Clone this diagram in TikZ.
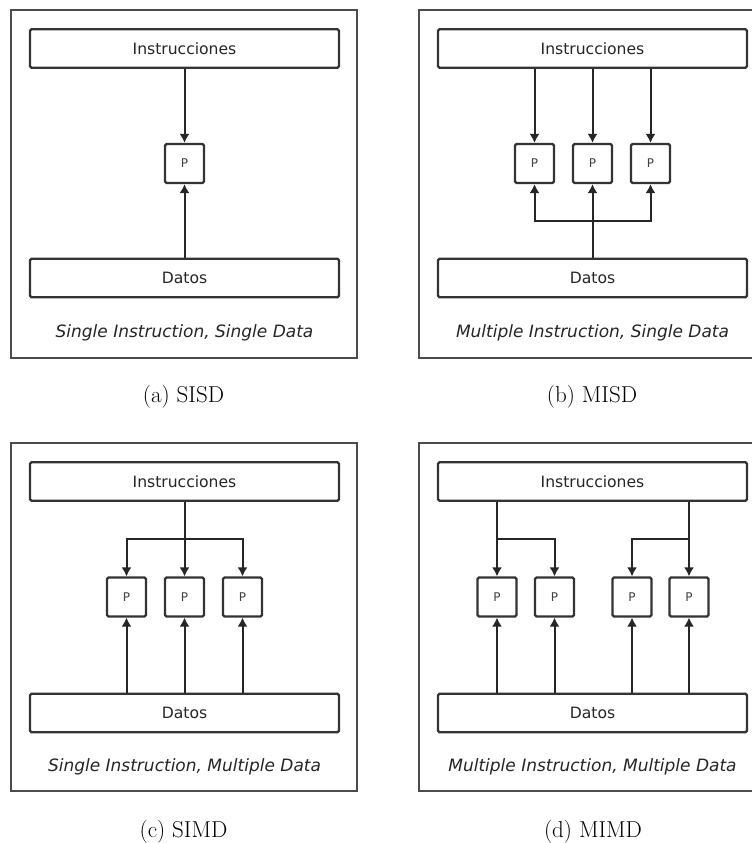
\documentclass[tikz,border=0pt]{standalone}
\usepackage{fontspec}
\newfontfamily\dvsans{DejaVu Sans}
\usetikzlibrary{arrows.meta}
\tikzset{
  frame/.style={draw=black!70, line width=1.8pt},
  bigbox/.style={draw=black!80, line width=2.2pt, rounded corners=1.5pt, fill=white,
    minimum width=309pt, minimum height=38.5pt, inner sep=0pt,
    font=\dvsans\fontsize{15.6}{18}\selectfont, text=black!85},
  pbox/.style={draw=black!80, line width=2.2pt, rounded corners=1.5pt, fill=white,
    minimum width=39pt, minimum height=39pt, inner sep=0pt,
    font=\dvsans\fontsize{12}{14}\selectfont, text=black!75},
  arr/.style={draw=black!85, line width=2pt, -{Latex[length=9pt,width=10pt]}},
  mode/.style={font=\dvsans\itshape\fontsize{17}{20}\selectfont, text=black!85},
  subcap/.style={font=\fontsize{23}{27}\selectfont}
}
\begin{document}
\begin{tikzpicture}[x=1pt,y=-1pt]
\useasboundingbox (0,0) rectangle (752,843);
\clip (0,0) rectangle (752,843);
\fill[white] (0,0) rectangle (752,843);

% ---------- (a) SISD ----------
\begin{scope}[shift={(0,0)}]
  \draw[frame] (11,10) rectangle (357,358);
  \node[bigbox] (a-ins) at (184.5,48.5) {Instrucciones};
  \node[pbox] (a-p) at (184.5,163.5) {P};
  \node[bigbox] (a-dat) at (184.5,278) {Datos};
  \draw[arr] (a-ins.south) -- (a-p.north);
  \draw[arr] (a-dat.north) -- (a-p.south);
  \node[mode] (a-mode) at (184.5,333) {Single Instruction, Single Data};
  \node[subcap] (a-cap) at (183.5,397) {(a) SISD};
\end{scope}

% ---------- (b) MISD ----------
\begin{scope}[shift={(408,0)}]
  \draw[frame] (11,10) rectangle (357,358);
  \node[bigbox] (b-ins) at (184.5,48.5) {Instrucciones};
  \node[pbox] (b-p1) at (126.5,163.5) {P};
  \node[pbox] (b-p2) at (184.5,163.5) {P};
  \node[pbox] (b-p3) at (242.5,163.5) {P};
  \node[bigbox] (b-dat) at (184.5,278) {Datos};
  \draw[arr] (b-ins.south -| b-p1) -- (b-p1.north);
  \draw[arr] (b-ins.south -| b-p2) -- (b-p2.north);
  \draw[arr] (b-ins.south -| b-p3) -- (b-p3.north);
  \coordinate (b-j) at (184.5,221);
  \draw[arr] (b-dat.north) -- (b-p2.south);
  \draw[arr] (b-j) -| (b-p1.south);
  \draw[arr] (b-j) -| (b-p3.south);
  \node[mode] (b-mode) at (184.5,333) {Multiple Instruction, Single Data};
  \node[subcap] (b-cap) at (184,397) {(b) MISD};
\end{scope}

% ---------- (c) SIMD ----------
\begin{scope}[shift={(0,433)}]
  \draw[frame] (11,10) rectangle (357,358);
  \node[bigbox] (c-ins) at (184.5,48.5) {Instrucciones};
  \node[pbox] (c-p1) at (126.5,164) {P};
  \node[pbox] (c-p2) at (184.5,164) {P};
  \node[pbox] (c-p3) at (242.5,164) {P};
  \node[bigbox] (c-dat) at (184.5,280) {Datos};
  \draw[arr] (c-ins.south) -- (c-p2.north);
  \coordinate (c-j) at (184.5,106);
  \draw[arr] (c-j) -| (c-p1.north);
  \draw[arr] (c-j) -| (c-p3.north);
  \draw[arr] (c-dat.north -| c-p1) -- (c-p1.south);
  \draw[arr] (c-dat.north -| c-p2) -- (c-p2.south);
  \draw[arr] (c-dat.north -| c-p3) -- (c-p3.south);
  \node[mode] (c-mode) at (184.5,334) {Single Instruction, Multiple Data};
  \node[subcap] (c-cap) at (183.5,399) {(c) SIMD};
\end{scope}

% ---------- (d) MIMD ----------
\begin{scope}[shift={(408,433)}]
  \draw[frame] (11,10) rectangle (357,358);
  \node[bigbox] (d-ins) at (184.5,48.5) {Instrucciones};
  \node[pbox] (d-p1) at (89,164) {P};
  \node[pbox] (d-p2) at (146.5,164) {P};
  \node[pbox] (d-p3) at (224,164) {P};
  \node[pbox] (d-p4) at (281,164) {P};
  \node[bigbox] (d-dat) at (184.5,280) {Datos};
  \draw[arr] (d-ins.south -| d-p1) -- (d-p1.north);
  \coordinate (d-j1) at (89,106);
  \draw[arr] (d-j1) -| (d-p2.north);
  \draw[arr] (d-ins.south -| d-p4) -- (d-p4.north);
  \coordinate (d-j2) at (281,106);
  \draw[arr] (d-j2) -| (d-p3.north);
  \draw[arr] (d-dat.north -| d-p1) -- (d-p1.south);
  \draw[arr] (d-dat.north -| d-p2) -- (d-p2.south);
  \draw[arr] (d-dat.north -| d-p3) -- (d-p3.south);
  \draw[arr] (d-dat.north -| d-p4) -- (d-p4.south);
  \node[mode] (d-mode) at (184.5,334) {Multiple Instruction, Multiple Data};
  \node[subcap] (d-cap) at (185,399) {(d) MIMD};
\end{scope}
\end{tikzpicture}
\end{document}
